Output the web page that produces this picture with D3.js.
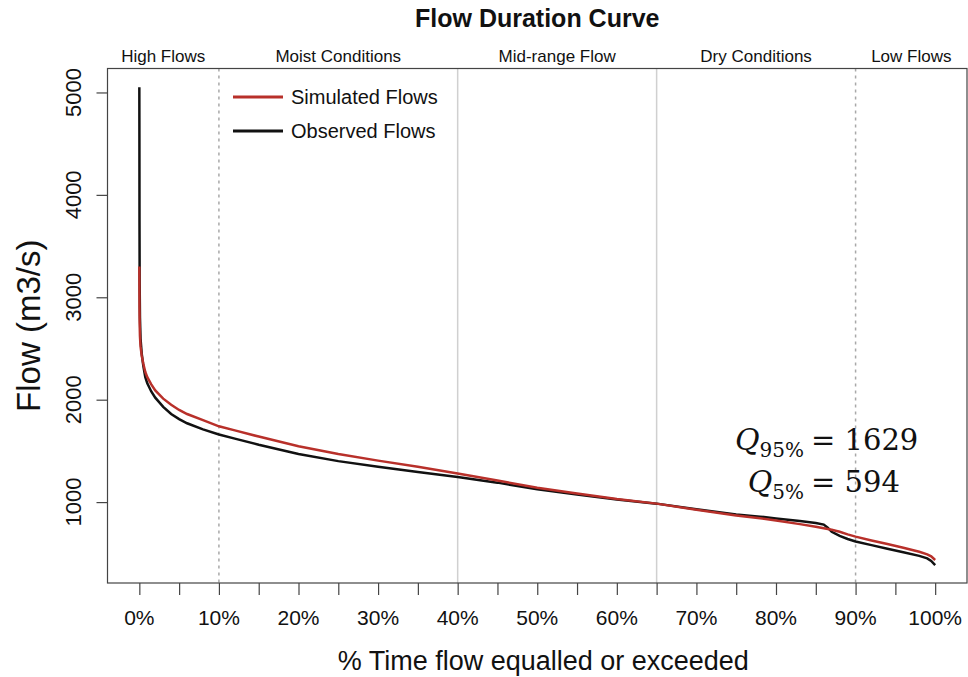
<!DOCTYPE html>
<html>
<head>
<meta charset="utf-8">
<script src="https://cdn.jsdelivr.net/npm/d3@7"></script>
<style>
  body { margin: 0; background: #fff; }
  svg { display: block; font-family: "Liberation Sans", Arial, sans-serif; }
</style>
</head>
<body>
<svg id="chart" width="968" height="677"></svg>
<script>
// ==========================================
// DATA
// ==========================================
const exceedPct = [0, 0.01, 0.02, 0.04, 0.08, 0.15, 0.3, 0.5, 0.75, 1, 1.5, 2, 3, 4, 5, 6, 8, 10, 12, 15,
  20, 25, 30, 35, 40, 45, 50, 55, 60, 65, 70, 75, 78, 80, 83, 85, 86, 86.5, 87, 88, 89, 90,
  92, 94, 96, 98, 99, 99.5, 100];

const observedFlows = [5050, 4550, 3750, 3150, 2800, 2600, 2450, 2330, 2220, 2160, 2080, 2020, 1930, 1860, 1810, 1770, 1710, 1660, 1620, 1560,
  1470, 1400, 1345, 1295, 1245, 1190, 1125, 1075, 1025, 985, 930, 880, 858, 840, 815, 795, 780, 750, 710, 670, 640, 615,
  580, 545, 510, 475, 450, 425, 385];

const simulatedFlows = [3300, 3100, 2900, 2750, 2620, 2520, 2430, 2350, 2270, 2220, 2150, 2090, 2010, 1950, 1900, 1860, 1800, 1740, 1700, 1640,
  1545, 1470, 1405, 1345, 1280, 1210, 1140, 1085, 1030, 985, 925, 870, 842, 820, 785, 760, 745, 738, 730, 710, 685, 663,
  625, 590, 555, 515, 490, 470, 435];

const flowTicks = [1000, 2000, 3000, 4000, 5000];
const pctTicks = d3.range(0, 101, 5);
const pctLabels = d3.range(0, 101, 10);

// zones along the top of the plot
const zoneNames = ["High Flows", "Moist Conditions", "Mid-range Flow", "Dry Conditions", "Low Flows"];
const zoneBreaks = [10, 40, 65, 90];
const dashedBreaks = [10, 90];

const seriesNames = ["Simulated Flows", "Observed Flows"];
const seriesColors = ["#b8302a", "#111111"];

const q95Value = 1629;
const q5Value = 594;

// ==========================================
// SCALES
// ==========================================
const svg = d3.select('#chart');
const box = { left: 107.5, right: 967, top: 68.5, bottom: 583 };

const x = d3.scaleLinear().domain([-4, 104]).range([box.left, box.right]);
const y = d3.scaleLinear().domain([210, 5234]).range([box.bottom, box.top]);

// ==========================================
// ZONE LINES
// ==========================================
svg.selectAll('.zone-line')
  .data(zoneBreaks)
  .enter()
  .append('line')
  .attr('class', 'zone-line')
  .attr('x1', d => x(d))
  .attr('x2', d => x(d))
  .attr('y1', box.top)
  .attr('y2', box.bottom)
  .attr('stroke', d => dashedBreaks.includes(d) ? '#a8a8a8' : '#d0d0d0')
  .attr('stroke-width', 1.5)
  .attr('stroke-dasharray', d => dashedBreaks.includes(d) ? '3,4' : null);

const zoneEdges = [-4, ...zoneBreaks, 104];
svg.selectAll('.zone-label')
  .data(zoneNames)
  .enter()
  .append('text')
  .attr('class', 'zone-label')
  .attr('x', (d, i) => (x(zoneEdges[i]) + x(zoneEdges[i + 1])) / 2)
  .attr('y', 62)
  .attr('text-anchor', 'middle')
  .attr('font-size', 17)
  .attr('fill', '#111')
  .text(d => d);

// ==========================================
// CURVES
// ==========================================
const line = d3.line()
  .x(d => x(d[0]))
  .y(d => y(d[1]));

svg.append('path')
  .datum(d3.zip(exceedPct, observedFlows))
  .attr('d', line)
  .attr('fill', 'none')
  .attr('stroke', seriesColors[1])
  .attr('stroke-width', 2.5);

svg.append('path')
  .datum(d3.zip(exceedPct, simulatedFlows))
  .attr('d', line)
  .attr('fill', 'none')
  .attr('stroke', seriesColors[0])
  .attr('stroke-width', 2.5);

// ==========================================
// AXES + BOX
// ==========================================
svg.append('rect')
  .attr('x', box.left)
  .attr('y', box.top)
  .attr('width', box.right - box.left)
  .attr('height', box.bottom - box.top)
  .attr('fill', 'none')
  .attr('stroke', '#444')
  .attr('stroke-width', 1.2);

const xAxis = svg.append('g')
  .attr('transform', `translate(0,${box.bottom})`)
  .call(d3.axisBottom(x).tickValues(pctTicks).tickSize(12).tickFormat(''));
xAxis.select('.domain').remove();
xAxis.selectAll('line').attr('stroke', '#444').attr('stroke-width', 1.2);

svg.selectAll('.x-label')
  .data(pctLabels)
  .enter()
  .append('text')
  .attr('class', 'x-label')
  .attr('x', d => x(d))
  .attr('y', 625)
  .attr('text-anchor', 'middle')
  .attr('font-size', 21)
  .attr('fill', '#111')
  .text(d => d + '%');

const yAxis = svg.append('g')
  .attr('transform', `translate(${box.left},0)`)
  .call(d3.axisLeft(y).tickValues(flowTicks).tickSize(11).tickFormat(''));
yAxis.select('.domain').remove();
yAxis.selectAll('line').attr('stroke', '#444').attr('stroke-width', 1.2);

svg.selectAll('.y-label')
  .data(flowTicks)
  .enter()
  .append('text')
  .attr('class', 'y-label')
  .attr('transform', d => `translate(81,${y(d)}) rotate(-90)`)
  .attr('text-anchor', 'middle')
  .attr('font-size', 22)
  .attr('fill', '#111')
  .text(d => d);

// ==========================================
// TITLES
// ==========================================
svg.append('text')
  .attr('x', (box.left + box.right) / 2)
  .attr('y', 27)
  .attr('text-anchor', 'middle')
  .attr('font-size', 25)
  .attr('font-weight', 'bold')
  .attr('fill', '#111')
  .text('Flow Duration Curve');

svg.append('text')
  .attr('x', (box.left + box.right) / 2 + 6)
  .attr('y', 670)
  .attr('text-anchor', 'middle')
  .attr('font-size', 27)
  .attr('fill', '#111')
  .text('% Time flow equalled or exceeded');

svg.append('text')
  .attr('transform', `translate(40,${(box.top + box.bottom) / 2}) rotate(-90)`)
  .attr('text-anchor', 'middle')
  .attr('font-size', 33)
  .attr('fill', '#111')
  .text('Flow (m3/s)');

// ==========================================
// LEGEND
// ==========================================
const legend = svg.selectAll('.legend')
  .data(seriesNames)
  .enter()
  .append('g')
  .attr('class', 'legend')
  .attr('transform', (d, i) => `translate(233,${97 + i * 34})`);

legend.append('line')
  .attr('x1', 0)
  .attr('x2', 50)
  .attr('stroke', (d, i) => seriesColors[i])
  .attr('stroke-width', 3);

legend.append('text')
  .attr('x', 58)
  .attr('y', 7)
  .attr('font-size', 20)
  .attr('fill', '#111')
  .text(d => d);

// ==========================================
// QUANTILE NOTE
// ==========================================
const notes = [
  { sub: '95%', value: q95Value, y: 450 },
  { sub: '5%', value: q5Value, y: 492 }
];

const note = svg.selectAll('.note')
  .data(notes)
  .enter()
  .append('g')
  .attr('class', 'note')
  .style('font-family', '"DejaVu Serif", "Liberation Serif", serif')
  .attr('fill', '#111');

const qText = note.append('text')
  .attr('x', 804)
  .attr('y', d => d.y)
  .attr('text-anchor', 'end');
qText.append('tspan')
  .attr('font-size', 30)
  .attr('font-style', 'italic')
  .text('Q');
qText.append('tspan')
  .attr('font-size', 20)
  .attr('dy', 7)
  .text(d => d.sub);

note.append('text')
  .attr('x', 811)
  .attr('y', d => d.y)
  .attr('font-size', 29)
  .text(d => `= ${d.value}`);
</script>
</body>
</html>
